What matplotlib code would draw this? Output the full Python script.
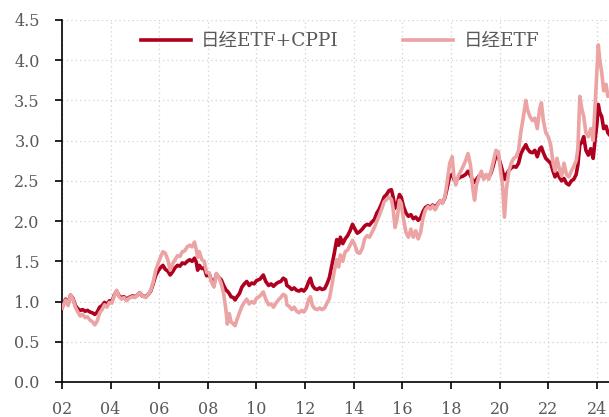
import matplotlib
matplotlib.use("Agg")
import matplotlib.pyplot as plt

dates = [2002.00, 2002.08, 2002.15, 2002.25, 2002.35, 2002.45, 2002.55, 2002.65, 2002.75, 2002.85,
         2002.95, 2003.05, 2003.15, 2003.25, 2003.35, 2003.45, 2003.55, 2003.65, 2003.75, 2003.85,
         2003.95, 2004.05, 2004.15, 2004.25, 2004.35, 2004.45, 2004.55, 2004.65, 2004.75, 2004.90,
         2005.00, 2005.10, 2005.20, 2005.30, 2005.45, 2005.55, 2005.65, 2005.75, 2005.85, 2005.95,
         2006.05, 2006.15, 2006.25, 2006.35, 2006.45, 2006.55, 2006.65, 2006.75, 2006.85, 2006.95,
         2007.05, 2007.15, 2007.25, 2007.35, 2007.45, 2007.52, 2007.58, 2007.65, 2007.75, 2007.85,
         2007.95, 2008.05, 2008.15, 2008.25, 2008.35, 2008.45, 2008.55, 2008.65, 2008.75, 2008.80,
         2008.88, 2008.95, 2009.05, 2009.12, 2009.20, 2009.30, 2009.40, 2009.50, 2009.60, 2009.70,
         2009.80, 2009.90, 2010.00, 2010.15, 2010.28, 2010.38, 2010.50, 2010.60, 2010.70, 2010.80,
         2010.90, 2011.00, 2011.10, 2011.20, 2011.25, 2011.35, 2011.45, 2011.55, 2011.65, 2011.75,
         2011.85, 2011.95, 2012.05, 2012.15, 2012.22, 2012.30, 2012.40, 2012.50, 2012.60, 2012.70,
         2012.80, 2012.90, 2013.00, 2013.10, 2013.20, 2013.30, 2013.38, 2013.45, 2013.55, 2013.65,
         2013.75, 2013.85, 2013.95, 2014.05, 2014.15, 2014.25, 2014.35, 2014.45, 2014.55, 2014.65,
         2014.75, 2014.85, 2014.95, 2015.05, 2015.15, 2015.25, 2015.35, 2015.45, 2015.55, 2015.62,
         2015.70, 2015.78, 2015.88, 2015.95, 2016.05, 2016.15, 2016.25, 2016.35, 2016.45, 2016.55,
         2016.65, 2016.75, 2016.85, 2016.95, 2017.05, 2017.15, 2017.25, 2017.35, 2017.45, 2017.55,
         2017.65, 2017.75, 2017.85, 2017.95, 2018.05, 2018.12, 2018.20, 2018.30, 2018.40, 2018.50,
         2018.60, 2018.70, 2018.80, 2018.90, 2018.97, 2019.05, 2019.15, 2019.25, 2019.35, 2019.45,
         2019.55, 2019.65, 2019.75, 2019.85, 2019.95, 2020.05, 2020.12, 2020.20, 2020.28, 2020.38,
         2020.48, 2020.58, 2020.68, 2020.78, 2020.88, 2020.98, 2021.08, 2021.15, 2021.25, 2021.35,
         2021.45, 2021.55, 2021.65, 2021.72, 2021.80, 2021.90, 2022.00, 2022.10, 2022.20, 2022.28,
         2022.36, 2022.45, 2022.55, 2022.65, 2022.75, 2022.85, 2022.95, 2023.05, 2023.15, 2023.22,
         2023.30, 2023.38, 2023.46, 2023.55, 2023.65, 2023.75, 2023.85, 2023.93, 2024.00, 2024.06,
         2024.12, 2024.20, 2024.28, 2024.38, 2024.45, 2024.50]

cppi = [0.92, 0.98, 1.03, 0.97, 1.08, 1.04, 0.95, 0.91, 0.89, 0.90,
        0.88, 0.89, 0.87, 0.86, 0.84, 0.87, 0.93, 0.95, 0.99, 0.96,
        1.01, 1.00, 1.08, 1.13, 1.07, 1.05, 1.06, 1.03, 1.05, 1.07,
        1.06, 1.08, 1.11, 1.07, 1.06, 1.09, 1.13, 1.22, 1.32, 1.38,
        1.42, 1.45, 1.40, 1.38, 1.33, 1.37, 1.42, 1.45, 1.44, 1.48,
        1.47, 1.50, 1.52, 1.50, 1.54, 1.49, 1.39, 1.45, 1.41, 1.42,
        1.32, 1.35, 1.26, 1.22, 1.34, 1.30, 1.27, 1.20, 1.14, 1.13,
        1.10, 1.06, 1.05, 1.02, 1.06, 1.10, 1.18, 1.22, 1.25, 1.20,
        1.23, 1.22, 1.26, 1.28, 1.33, 1.25, 1.20, 1.22, 1.19, 1.22,
        1.24, 1.25, 1.29, 1.27, 1.20, 1.18, 1.15, 1.17, 1.14, 1.13,
        1.15, 1.13, 1.17, 1.25, 1.29, 1.20, 1.16, 1.15, 1.17, 1.15,
        1.16, 1.22, 1.30, 1.45, 1.60, 1.77, 1.70, 1.80, 1.72, 1.78,
        1.82, 1.88, 1.96, 1.90, 1.85, 1.87, 1.90, 1.94, 1.96, 1.95,
        1.99, 2.02, 2.10, 2.15, 2.22, 2.30, 2.33, 2.38, 2.39, 2.30,
        2.16, 2.20, 2.33, 2.30, 2.18, 2.10, 2.06, 2.08, 2.03, 2.05,
        2.01, 2.04, 2.12, 2.17, 2.19, 2.17, 2.20, 2.17, 2.21, 2.25,
        2.23, 2.29, 2.42, 2.56, 2.58, 2.52, 2.50, 2.53, 2.55, 2.56,
        2.58, 2.62, 2.57, 2.50, 2.48, 2.52, 2.56, 2.58, 2.55, 2.57,
        2.54, 2.60, 2.70, 2.82, 2.80, 2.70, 2.62, 2.52, 2.58, 2.63,
        2.66, 2.68, 2.67, 2.72, 2.84, 2.90, 2.95, 2.90, 2.86, 2.85,
        2.88, 2.80, 2.90, 2.92, 2.85, 2.78, 2.75, 2.72, 2.62, 2.55,
        2.60, 2.55, 2.50, 2.53, 2.47, 2.45, 2.50, 2.52, 2.58, 2.70,
        2.95, 2.98, 3.05, 2.88, 2.82, 2.90, 2.78, 3.02, 3.20, 3.45,
        3.35, 3.30, 3.15, 3.18, 3.10, 3.08]

etf = [0.92, 0.97, 1.02, 0.95, 1.08, 1.03, 0.93, 0.87, 0.82, 0.84,
       0.80, 0.81, 0.77, 0.75, 0.71, 0.76, 0.86, 0.90, 0.96, 0.93,
       0.99, 0.98, 1.07, 1.14, 1.06, 1.03, 1.05, 1.01, 1.04, 1.06,
       1.05, 1.08, 1.11, 1.07, 1.05, 1.09, 1.14, 1.24, 1.38, 1.47,
       1.55, 1.62, 1.60, 1.52, 1.39, 1.47, 1.52, 1.57, 1.56, 1.62,
       1.63, 1.68, 1.70, 1.68, 1.74, 1.65, 1.55, 1.62, 1.52, 1.50,
       1.36, 1.36, 1.24, 1.18, 1.35, 1.30, 1.22, 1.10, 0.88, 0.72,
       0.85, 0.75, 0.72, 0.70, 0.78, 0.86, 0.94, 0.99, 1.03, 0.97,
       1.00, 0.98, 1.04, 1.07, 1.12, 1.03, 0.96, 0.97, 0.93, 0.98,
       1.02, 1.05, 1.09, 1.07, 0.96, 0.94, 0.90, 0.93, 0.88, 0.86,
       0.89, 0.87, 0.92, 1.03, 1.06, 0.95, 0.91, 0.90, 0.92, 0.90,
       0.92, 0.98, 1.04, 1.20, 1.38, 1.52, 1.43, 1.58, 1.50, 1.62,
       1.64, 1.70, 1.76, 1.70, 1.61, 1.60, 1.66, 1.78, 1.82, 1.80,
       1.86, 1.92, 2.00, 2.07, 2.15, 2.24, 2.27, 2.30, 2.27, 2.15,
       1.92, 2.02, 2.26, 2.22, 2.02, 1.86, 1.80, 1.90, 1.80, 1.88,
       1.78, 1.86, 2.04, 2.14, 2.18, 2.15, 2.19, 2.14, 2.20, 2.25,
       2.22, 2.30, 2.50, 2.72, 2.80, 2.55, 2.45, 2.56, 2.62, 2.68,
       2.75, 2.84, 2.70, 2.40, 2.26, 2.45, 2.55, 2.62, 2.52, 2.58,
       2.52, 2.62, 2.75, 2.88, 2.86, 2.60, 2.45, 2.05, 2.40, 2.62,
       2.72, 2.78, 2.80, 2.88, 3.12, 3.30, 3.50, 3.38, 3.30, 3.25,
       3.28, 3.15, 3.40, 3.47, 3.25, 3.10, 3.05, 2.95, 2.72, 2.62,
       2.78, 2.66, 2.56, 2.72, 2.58, 2.55, 2.62, 2.68, 2.75, 2.90,
       3.55, 3.40, 3.30, 3.10, 3.05, 3.15, 3.00, 3.45, 3.85, 4.19,
       4.00, 3.85, 3.62, 3.70, 3.55, 3.58]

series_names = ["日经ETF+CPPI", "日经ETF"]
x_ticks = [2002, 2004, 2006, 2008, 2010, 2012, 2014, 2016, 2018, 2020, 2022, 2024]
x_labels = ["02", "04", "06", "08", "10", "12", "14", "16", "18", "20", "22", "24"]
y_ticks = [0.0, 0.5, 1.0, 1.5, 2.0, 2.5, 3.0, 3.5, 4.0, 4.5]

fam = ["DejaVu Serif", "Noto Sans CJK SC"]
plt.rcParams["font.family"] = fam

fig = plt.figure(figsize=(6.09, 4.17), dpi=100)
ax = fig.add_axes([62 / 609, 1 - 382 / 417, 1 - 62 / 609, (382 - 20) / 417])

ax.plot(dates, cppi, color="#B00020", lw=2.6, label=series_names[0], zorder=3)
ax.plot(dates, etf, color="#EBA3A3", lw=2.6, label=series_names[1], zorder=4)

ax.set_xlim(2002, 2024.5)
ax.set_ylim(0, 4.5)
ax.set_xticks(x_ticks)
ax.set_xticklabels(x_labels)
ax.set_yticks(y_ticks)
ax.set_yticklabels([f"{v:.1f}" for v in y_ticks])

ax.grid(True, linestyle=(0, (1, 2.5)), color="#d0d0d0", lw=0.9)
ax.set_axisbelow(True)
for s in ["top", "right"]:
    ax.spines[s].set_visible(False)
for s in ["left", "bottom"]:
    ax.spines[s].set_color("black")
    ax.spines[s].set_linewidth(1.2)
ax.tick_params(axis="both", direction="out", length=5, width=1.2, colors="black",
               labelcolor="#595959", labelsize=11.5)
ax.tick_params(axis="y", pad=11)
ax.tick_params(axis="x", pad=9)

leg = ax.legend(loc="center", bbox_to_anchor=(0.508, 0.942), ncol=2, frameon=False,
                handlelength=2.7, handletextpad=0.55, columnspacing=3.5,
                borderpad=0, borderaxespad=0,
                prop={"family": fam, "size": 13.3})
for t in leg.get_texts():
    t.set_color("#595959")

fig.savefig("out.png", dpi=100)
